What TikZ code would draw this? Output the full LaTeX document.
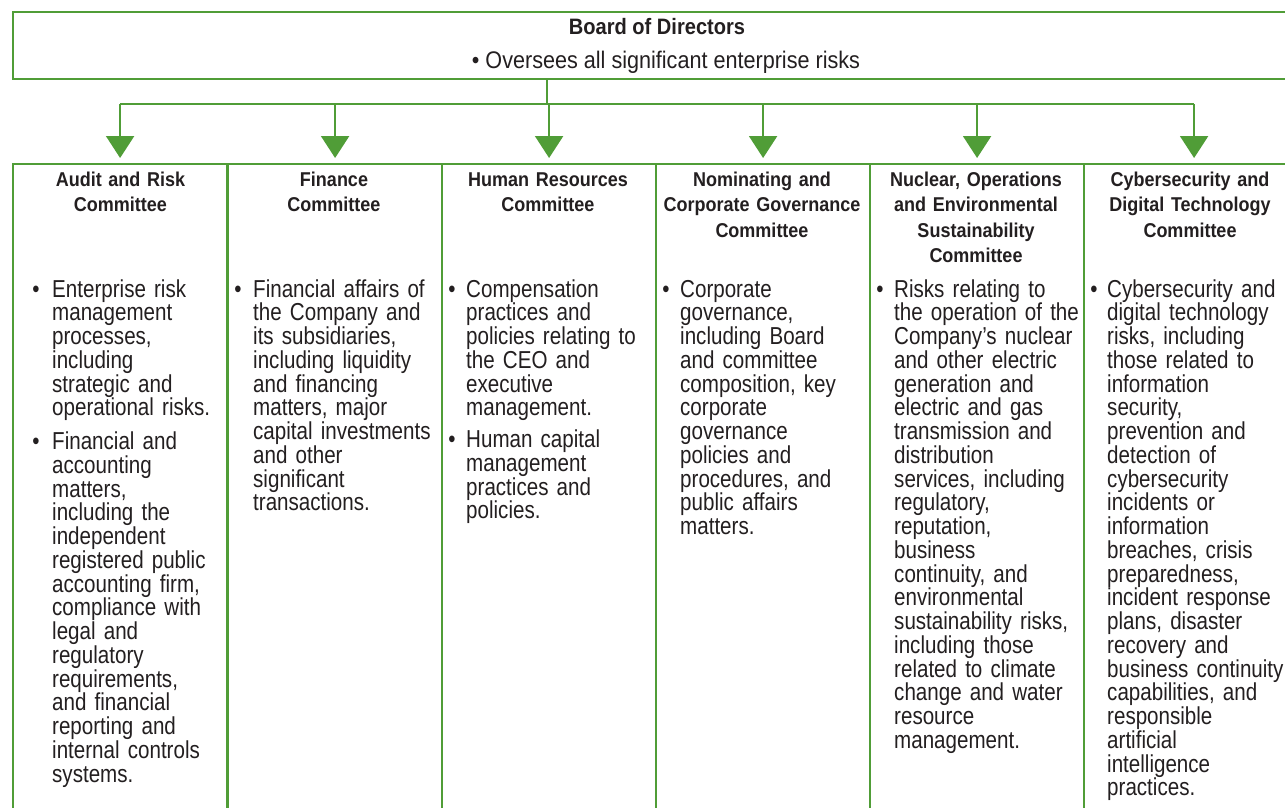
\documentclass[tikz,border=0pt]{standalone}
\usepackage{fontspec}
\setmainfont[FakeStretch=0.9]{Liberation Sans}
\newfontfamily\mybodyfam[FakeStretch=0.84]{Liberation Sans}
\usetikzlibrary{arrows.meta,calc}
\definecolor{grn}{RGB}{80,157,55}
\definecolor{txt}{RGB}{35,31,32}
\newcommand\mybodyfont{\mybodyfam\fontsize{24.5}{23.75}\selectfont}
\newcommand\mysubfont{\fontsize{24}{23.75}\selectfont}
\newcommand\myheadfont{\bfseries\fontsize{20}{25.5}\selectfont}
\newcommand\mytitlefont{\bfseries\fontsize{22.3}{26}\selectfont}
\tikzset{
  colbox/.style={draw=grn,line width=2.2pt,minimum width=214pt,minimum height=760pt,anchor=north west,inner sep=0pt},
  boardbox/.style={draw=grn,line width=2.2pt,minimum width=1288pt,minimum height=67pt,anchor=north west,inner sep=0pt},
  conn/.style={draw=grn,line width=2.2pt},
  arr/.style={conn,-{Triangle[width=28pt,length=22pt]}},
  head/.style={font=\myheadfont,text=txt,text width=210pt,align=center,anchor=base,inner sep=0pt},
  title/.style={font=\mytitlefont,text=txt,anchor=base,inner sep=0pt},
  sub/.style={font=\mysubfont,text=txt,anchor=base,inner sep=0pt},
  body/.style={font=\mybodyfont,text=txt,text width=200pt,align=left,anchor=base west,inner sep=0pt},
  bul/.style={font=\mybodyfont,text=txt,anchor=base,inner sep=0pt}
}
\begin{document}
\begin{tikzpicture}[x=1pt,y=-1pt]
\useasboundingbox (0,0) rectangle (1285,808);
\fill[white] (0,0) rectangle (1285,808);
% board
\node[boardbox] (board) at (12,11) {};
\node[title] (btitle) at (657,35) {Board of Directors};
\node[sub] (bsub) at (666,69) {\textbullet\ Oversees all significant enterprise risks};
% committee columns
\node[colbox] (c1) at (12,163) {};
\node[colbox] (c2) at (227,163) {};
\node[colbox] (c3) at (441,163) {};
\node[colbox] (c4) at (655,163) {};
\node[colbox] (c5) at (869,163) {};
\node[colbox] (c6) at (1083,163) {};
% connectors
\coordinate (j) at (547,104);
\draw[conn] (board.south -| j) -- (j);
\draw[conn] (c1.north |- j) -- ([xshift=3pt]c6.north |- j);
\foreach \c/\dx in {c1/0,c2/0,c3/0,c4/0,c5/0,c6/3}{
  \draw[arr] ([xshift=\dx pt]\c.north |- j) -- ([xshift=\dx pt,yshift=5pt]\c.north);
}
% headings
\node[head] (h1) at (120.5,186) {Audit and Risk\\Committee};
\node[head] (h2) at (334,186) {Finance\\Committee};
\node[head] (h3) at (548,186) {Human Resources\\Committee};
\node[head] (h4) at (762,186) {Nominating and\\Corporate Governance\\Committee};
\node[head] (h5) at (976,186) {Nuclear, Operations\\and Environmental\\Sustainability\\Committee};
\node[head] (h6) at (1190,186) {Cybersecurity and\\Digital Technology\\Committee};
% column 1
\node[bul] (b1a) at (36,297) {\textbullet};
\node[body] (t1a) at (52,297) {Enterprise risk\\management\\processes,\\including\\strategic and\\operational risks.};
\node[bul] (b1b) at (36,449.5) {\textbullet};
\node[body] (t1b) at (52,449.5) {Financial and\\accounting\\matters,\\including the\\independent\\registered public\\accounting firm,\\compliance with\\legal and\\regulatory\\requirements,\\and financial\\reporting and\\internal controls\\systems.};
% column 2
\node[bul] (b2a) at (238,297) {\textbullet};
\node[body] (t2a) at (253,297) {Financial affairs of\\the Company and\\its subsidiaries,\\including liquidity\\and financing\\matters, major\\capital investments\\and other\\significant\\transactions.};
% column 3
\node[bul] (b3a) at (452,297) {\textbullet};
\node[body] (t3a) at (466,297) {Compensation\\practices and\\policies relating to\\the CEO and\\executive\\management.};
\node[bul] (b3b) at (452,447.5) {\textbullet};
\node[body] (t3b) at (466,447.5) {Human capital\\management\\practices and\\policies.};
% column 4
\node[bul] (b4a) at (666,297) {\textbullet};
\node[body] (t4a) at (680,297) {Corporate\\governance,\\including Board\\and committee\\composition, key\\corporate\\governance\\policies and\\procedures, and\\public affairs\\matters.};
% column 5
\node[bul] (b5a) at (880,297) {\textbullet};
\node[body] (t5a) at (894,297) {Risks relating to\\the operation of the\\Company’s nuclear\\and other electric\\generation and\\electric and gas\\transmission and\\distribution\\services, including\\regulatory,\\reputation,\\business\\continuity, and\\environmental\\sustainability risks,\\including those\\related to climate\\change and water\\resource\\management.};
% column 6
\node[bul] (b6a) at (1094,297) {\textbullet};
\node[body] (t6a) at (1107,297) {Cybersecurity and\\digital technology\\risks, including\\those related to\\information\\security,\\prevention and\\detection of\\cybersecurity\\incidents or\\information\\breaches, crisis\\preparedness,\\incident response\\plans, disaster\\recovery and\\business continuity\\capabilities, and\\responsible\\artificial\\intelligence\\practices.};
\end{tikzpicture}
\end{document}
